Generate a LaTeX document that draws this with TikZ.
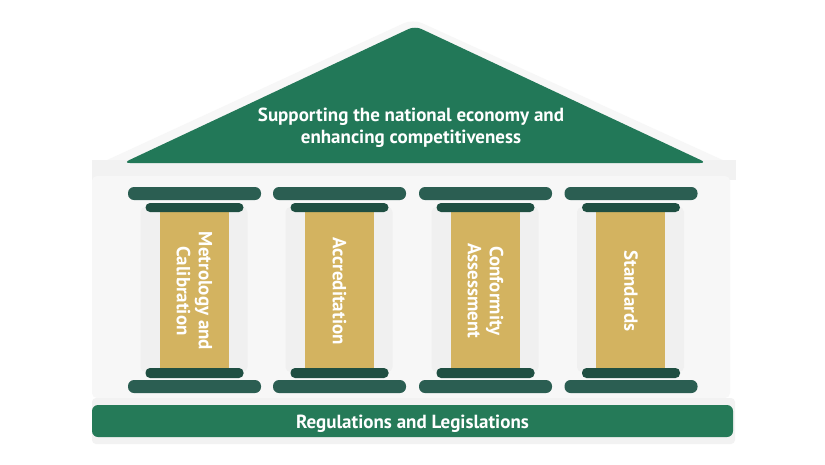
\documentclass[tikz,border=0pt]{standalone}
\usepackage{fontspec}
\setmainfont{PT Sans}
\definecolor{roofgreen}{HTML}{227858}
\definecolor{basegreen}{HTML}{257A58}
\definecolor{capdark}{HTML}{2B5E52}
\definecolor{capdeep}{HTML}{1F4F42}
\definecolor{gold}{HTML}{D3B360}
\begin{document}
\begin{tikzpicture}[x=1pt,y=-1pt,
  topcap/.style={fill=capdark, rounded corners=6pt},
  midcap/.style={fill=capdeep, rounded corners=4.5pt},
  shaft/.style={fill=gold},
  shaftshadow/.style={fill=black!6, rounded corners=5pt},
  label/.style={text=white, font=\bfseries\fontsize{19}{22}\selectfont, align=center}]
\useasboundingbox (0,0) rectangle (825,464);
\fill[white] (0,0) rectangle (825,464);
% roof halo and entablature
\fill[black!3, rounded corners=10pt] (92,167) -- (413,19) -- (738,167) -- cycle;
\fill[black!5] (92,160) rectangle (736,180);
% body
\fill[black!3, rounded corners=5pt] (92,176) rectangle (730,398);
% base
\fill[black!5, rounded corners=4pt] (92,398) rectangle (735,444);
\fill[basegreen, rounded corners=6pt] (92,405) rectangle (733,437);
\node[label] (base) at (412.5,423.5) {Regulations and Legislations};
% roof
\fill[roofgreen, rounded corners=7pt] (123,163) -- (415,26) -- (707,163) -- cycle;
\node[label] (roof) at (411,128) {Supporting the national economy and\\enhancing competitiveness};
% columns
\foreach \n/\cx/\txt in {a/194.5/{Metrology and\\Calibration}, b/339.5/{Accreditation}, c/485.5/{Conformity\\Assessment}, d/631/{Standards}}{
  \fill[shaftshadow] (\cx-54,207) rectangle (\cx+53,372);
  \fill[shaft] (\cx-35,205) rectangle (\cx+34,368);
  \fill[topcap] (\cx-66.5,187) rectangle (\cx+66.5,200);
  \fill[topcap] (\cx-66.5,380) rectangle (\cx+66.5,393);
  \fill[midcap] (\cx-49,203) rectangle (\cx+49,212);
  \fill[midcap] (\cx-49,368) rectangle (\cx+49,378);
  \node[label, rotate=-90] (col\n) at (\cx,291) {\txt};
}
\end{tikzpicture}
\end{document}
